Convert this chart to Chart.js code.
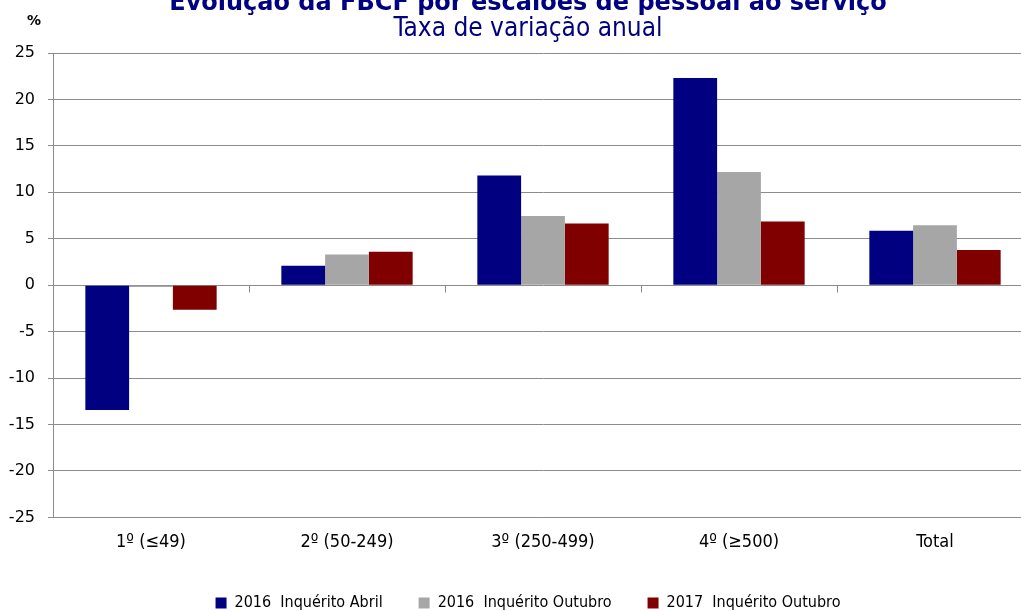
<!DOCTYPE html>
<html><head><meta charset="utf-8">
<script src="https://cdn.jsdelivr.net/npm/chart.js@4.4.0/dist/chart.umd.min.js"></script>
<style>
html,body{margin:0;padding:0;background:#fff;overflow:hidden;width:1021px;height:611px;}
#wrap{position:absolute;left:0;top:-11px;width:1056px;height:632px;}
</style></head><body>
<div id="wrap"><canvas id="c" width="1056" height="632"></canvas></div>
<script>
const categories = ['1º (≤49)', '2º (50-249)', '3º (250-499)', '4º (≥500)', 'Total'];
const abril2016 = [-13.45, 2.1, 11.8, 22.3, 5.85];
const outubro2016 = [-0.2, 3.3, 7.45, 12.2, 6.45];
const outubro2017 = [-2.65, 3.6, 6.65, 6.85, 3.8];
const seriesNames = ['2016  Inquérito Abril', '2016  Inquérito Outubro', '2017  Inquérito Outubro'];
const yTicks = [25, 20, 15, 10, 5, 0, -5, -10, -15, -20, -25];

const gridColor = '#8c8c8c';

const zeroTicks = {
  id: 'zeroTicks',
  afterDraw(chart) {
    const x = chart.scales.x, y = chart.scales.y, ctx = chart.ctx;
    const y0 = Math.round(y.getPixelForValue(0)) + 0.5;
    ctx.save();
    ctx.strokeStyle = gridColor; ctx.lineWidth = 1;
    for (let i = 0; i < categories.length - 1; i++) {
      const px = Math.round((x.getPixelForValue(i) + x.getPixelForValue(i + 1)) / 2) + 0.5;
      ctx.beginPath(); ctx.moveTo(px, y0); ctx.lineTo(px, y0 + 7); ctx.stroke();
    }
    ctx.fillStyle = '#000';
    ctx.font = 'bold 14px "DejaVu Sans"';
    ctx.textAlign = 'center'; ctx.textBaseline = 'middle';
    ctx.fillText('%', 34, 32);
    ctx.restore();
  }
};

new Chart(document.getElementById('c'), {
  type: 'bar',
  data: {
    labels: categories,
    datasets: [
      { label: seriesNames[0], data: abril2016, backgroundColor: '#000080' },
      { label: seriesNames[1], data: outubro2016, backgroundColor: '#a6a6a6' },
      { label: seriesNames[2], data: outubro2017, backgroundColor: '#800000' }
    ]
  },
  options: {
    responsive: false,
    animation: false,
    layout: { padding: { left: 0, right: 0, top: 0, bottom: 0 } },
    datasets: { bar: { barPercentage: 1.0, categoryPercentage: 0.67 } },
    plugins: {
      title: {
        display: true, text: 'Evolução da FBCF por escalões de pessoal ao serviço',
        color: '#000080', font: { family: 'DejaVu Sans', size: 24, weight: 'bold' },
        padding: { top: 0, bottom: 0 }
      },
      subtitle: {
        display: true, text: 'Taxa de variação anual',
        color: '#000080', font: { family: 'DejaVu Sans Condensed', size: 26, weight: 'normal' },
        padding: { top: -4, bottom: 8 }
      },
      legend: {
        position: 'bottom',
        labels: {
          boxWidth: 11, boxHeight: 11, color: '#000',
          font: { family: 'DejaVu Sans Condensed', size: 16 },
          padding: 36
        }
      },
      tooltip: { enabled: false }
    },
    scales: {
      x: {
        grid: { display: false },
        border: { display: true, color: gridColor },
        ticks: { color: '#000', font: { family: 'DejaVu Sans Condensed', size: 18 }, padding: 6 }
      },
      y: {
        min: -25, max: 25,
        afterBuildTicks(scale) { scale.ticks = yTicks.map(v => ({ value: v })); },
        afterFit(scale) { scale.width = 53; },
        grid: { color: gridColor, tickLength: 5 },
        border: { display: true, color: gridColor },
        ticks: { color: '#000', font: { family: 'DejaVu Sans', size: 16 }, padding: 13 }
      },
      yPad: {
        position: 'right', min: -25, max: 25,
        afterFit(scale) { scale.width = 23; },
        grid: { display: false, drawOnChartArea: false },
        border: { display: false },
        ticks: { display: false }
      }
    }
  },
  plugins: [zeroTicks]
});
</script></body></html>
